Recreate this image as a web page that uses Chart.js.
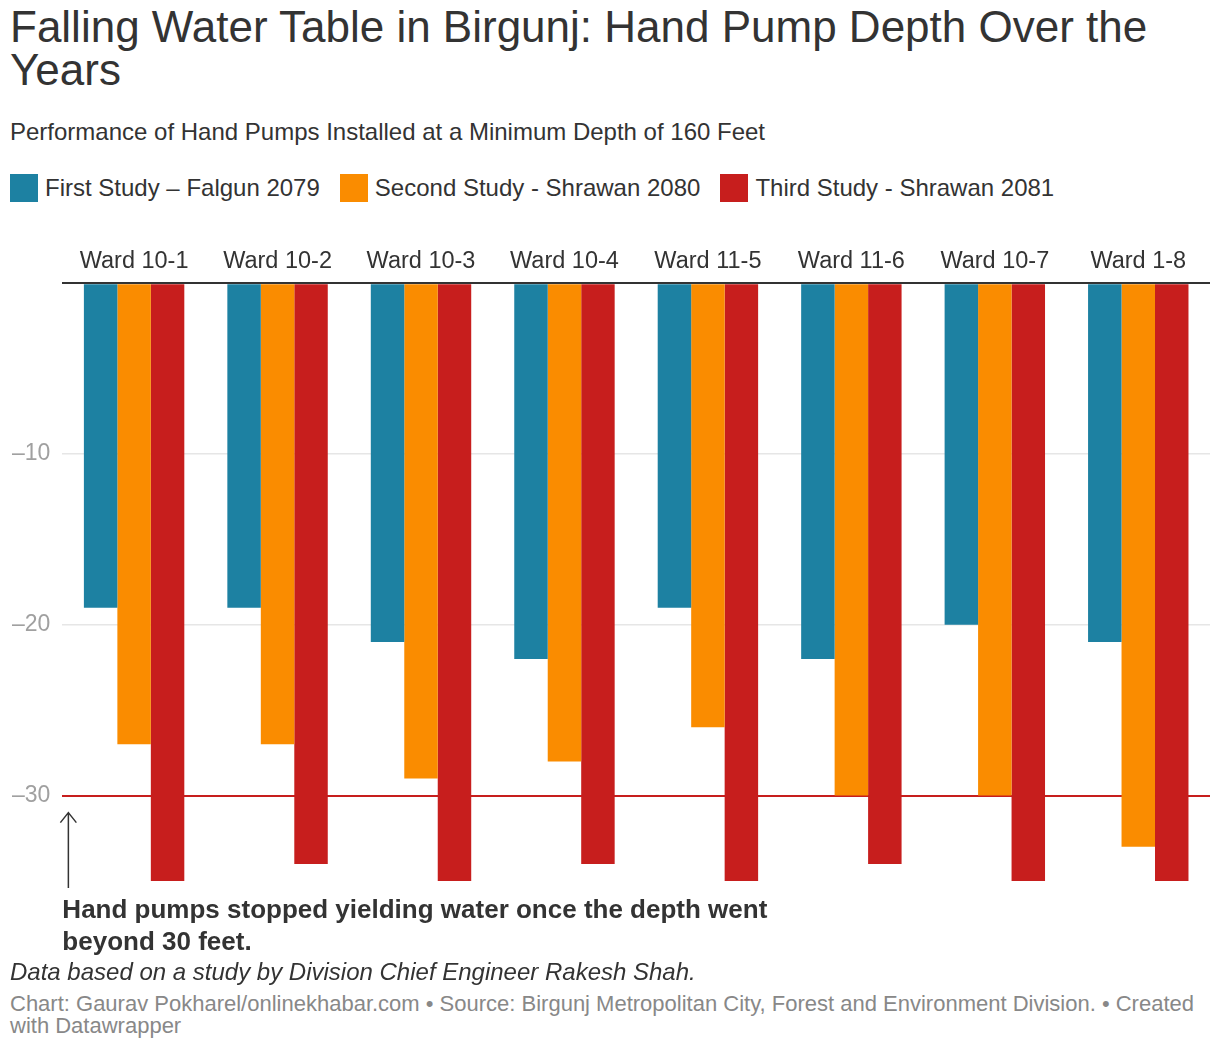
<!DOCTYPE html>
<html lang="en">
<head>
<meta charset="utf-8">
<title>Falling Water Table in Birgunj</title>
<script src="https://cdn.jsdelivr.net/npm/chart.js@4.4.1/dist/chart.umd.min.js"></script>
<style>
  body { margin: 0; width: 1220px; height: 1050px; position: relative; overflow: hidden; background: #fff;
         font-family: "Liberation Sans", Arial, Helvetica, sans-serif; color: #333; }
  .title { position: absolute; left: 10px; top: 5px; width: 1190px; margin: 0; font-size: 44px; line-height: 43px; font-weight: normal; }
  .subtitle { position: absolute; left: 10px; top: 118px; font-size: 24px; line-height: 28px; }
  .legend { position: absolute; left: 10px; top: 174px; display: flex; font-size: 24px; line-height: 28px; }
  .legend .item { display: flex; align-items: center; margin-right: 20px; }
  .legend i { width: 28px; height: 28px; margin-right: 7px; display: inline-block; }
  #wrap { position: absolute; left: 0; top: 239px; width: 1220px; height: 721px; }
  .note { position: absolute; left: 10px; top: 958px; font-style: italic; font-size: 24px; line-height: 28px; }
  .credit { position: absolute; left: 10px; top: 993px; width: 1200px; font-size: 22px; line-height: 22px; color: #888; }
</style>
</head>
<body>
<h1 class="title">Falling Water Table in Birgunj: Hand Pump Depth Over the Years</h1>
<div class="subtitle">Performance of Hand Pumps Installed at a Minimum Depth of 160 Feet</div>
<div class="legend" id="legend"></div>
<div id="wrap"><canvas id="depthChart"></canvas></div>
<div class="note">Data based on a study by Division Chief Engineer Rakesh Shah.</div>
<div class="credit">Chart: Gaurav Pokharel/onlinekhabar.com • Source: Birgunj Metropolitan City, Forest and Environment Division. • Created with Datawrapper</div>

<script>
const wards = ['Ward 10-1', 'Ward 10-2', 'Ward 10-3', 'Ward 10-4', 'Ward 11-5', 'Ward 11-6', 'Ward 10-7', 'Ward 1-8'];
const firstStudy = [-19, -19, -21, -22, -19, -22, -20, -21];
const secondStudy = [-27, -27, -29, -28, -26, -30, -30, -33];
const thirdStudy = [-35, -34, -35, -34, -35, -34, -35, -35];
const seriesNames = ['First Study – Falgun 2079', 'Second Study - Shrawan 2080', 'Third Study - Shrawan 2081'];
const seriesColors = ['#1d81a2', '#fa8c00', '#c71e1d'];
const yTicks = [0, -10, -20, -30];
const annotationLines = ['Hand pumps stopped yielding water once the depth went', 'beyond 30 feet.'];

const fontFamily = '"Liberation Sans", Arial, Helvetica, sans-serif';

// legend
const legend = document.getElementById('legend');
seriesNames.forEach((name, i) => {
    const item = document.createElement('span');
    item.className = 'item';
    item.innerHTML = `<i style="background:${seriesColors[i]}"></i>${name}`;
    legend.appendChild(item);
});

// arrow + bold note under the 30 ft line
const depthNote = {
    id: 'depthNote',
    afterDraw(chart) {
        const { ctx, chartArea, scales: { y } } = chart;
        const x = chartArea.left + 6;
        const tip = y.getPixelForValue(-30) + 17;
        const end = chartArea.bottom + 7;
        ctx.save();
        ctx.strokeStyle = '#333';
        ctx.lineWidth = 1.5;
        ctx.beginPath();
        ctx.moveTo(x, end);
        ctx.lineTo(x, tip);
        ctx.moveTo(x - 8, tip + 10);
        ctx.lineTo(x, tip);
        ctx.lineTo(x + 8, tip + 10);
        ctx.stroke();
        ctx.fillStyle = '#333';
        ctx.font = 'bold 26px ' + fontFamily;
        ctx.textBaseline = 'alphabetic';
        annotationLines.forEach((line, i) => {
            ctx.fillText(line, chartArea.left, chartArea.bottom + 37 + i * 32);
        });
        ctx.restore();
    }
};

const ctx = document.getElementById('depthChart').getContext('2d');
const depthChart = new Chart(ctx, {
    type: 'bar',
    data: {
        labels: wards,
        datasets: [firstStudy, secondStudy, thirdStudy].map((values, i) => ({
            label: seriesNames[i],
            data: values,
            backgroundColor: seriesColors[i],
            borderWidth: 0,
            categoryPercentage: 0.7,
            barPercentage: 1.0
        }))
    },
    options: {
        responsive: true,
        maintainAspectRatio: false,
        animation: false,
        layout: { padding: { left: 0, right: 10, top: 0, bottom: 79 } },
        plugins: {
            legend: { display: false },
            tooltip: { enabled: false }
        },
        scales: {
            x: {
                position: 'top',
                grid: { display: false, drawTicks: false },
                border: { display: false },
                ticks: {
                    color: '#333',
                    font: { family: fontFamily, size: 23.5 },
                    padding: 8,
                    maxRotation: 0,
                    autoSkip: false
                }
            },
            y: {
                min: -35,
                max: 0,
                afterBuildTicks: (scale) => { scale.ticks = yTicks.map(v => ({ value: v })); },
                border: { display: false },
                grid: {
                    drawTicks: false,
                    color: (c) => c.tick && c.tick.value === 0 ? '#333' : (c.tick && c.tick.value === -30 ? '#c71e1d' : '#e6e6e6'),
                    lineWidth: (c) => c.tick && (c.tick.value === 0 || c.tick.value === -30) ? 2 : 1.5
                },
                ticks: {
                    color: '#a0a0a0',
                    font: { family: fontFamily, size: 23 },
                    padding: 12,
                    callback: (v) => v === 0 ? '' : '\u2013' + Math.abs(v)
                }
            }
        }
    },
    plugins: [depthNote]
});
</script>
</body>
</html>
